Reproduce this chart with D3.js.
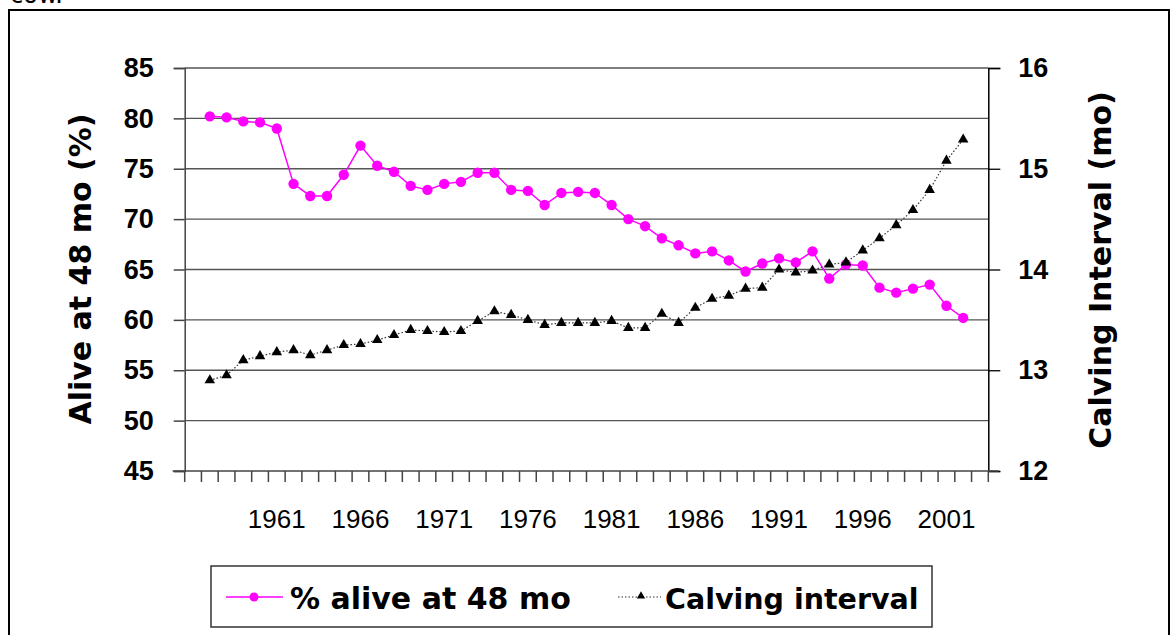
<!DOCTYPE html>
<html>
<head>
<meta charset="utf-8">
<script src="https://cdn.jsdelivr.net/npm/d3@7"></script>
<style>
  body { margin: 0; background: #fff; }
  svg { display: block; }
</style>
</head>
<body>
<div id="chart"></div>
<script>
// years with data
var years = [1957, 1958, 1959, 1960, 1961, 1962, 1963, 1964, 1965, 1966,
             1967, 1968, 1969, 1970, 1971, 1972, 1973, 1974, 1975, 1976,
             1977, 1978, 1979, 1980, 1981, 1982, 1983, 1984, 1985, 1986,
             1987, 1988, 1989, 1990, 1991, 1992, 1993, 1994, 1995, 1996,
             1997, 1998, 1999, 2000, 2001, 2002];
// % alive at 48 mo (left axis)
var alive = [80.2, 80.1, 79.7, 79.6, 79.0, 73.5, 72.3, 72.3, 74.4, 77.3,
             75.3, 74.7, 73.3, 72.9, 73.5, 73.7, 74.6, 74.6, 72.9, 72.8,
             71.4, 72.6, 72.7, 72.6, 71.4, 70.0, 69.3, 68.1, 67.4, 66.6,
             66.8, 65.9, 64.8, 65.6, 66.1, 65.7, 66.8, 64.1, 65.5, 65.4,
             63.2, 62.7, 63.1, 63.5, 61.4, 60.2];
// calving interval in months (right axis)
var calving = [12.90, 12.95, 13.10, 13.14, 13.18, 13.20, 13.15, 13.20, 13.25, 13.26,
               13.30, 13.35, 13.40, 13.39, 13.38, 13.39, 13.49, 13.585, 13.55, 13.50,
               13.45, 13.47, 13.47, 13.47, 13.49, 13.42, 13.42, 13.56, 13.47, 13.62,
               13.71, 13.74, 13.81, 13.82, 14.00, 13.97, 13.99, 14.05, 14.07, 14.19,
               14.31, 14.44, 14.59, 14.79, 15.08, 15.29];

var slots = d3.range(1956, 2004); // category slots on the x axis
var labelYears = [1961, 1966, 1971, 1976, 1981, 1986, 1991, 1996, 2001];
var leftTicks = [45, 50, 55, 60, 65, 70, 75, 80, 85];
var rightTicks = [12, 13, 14, 15, 16];

const width = 1176;
const height = 635;
const plotL = 184.7, plotR = 988.3, plotT = 68, plotB = 471;

const svg = d3.select("#chart").append("svg")
    .attr("width", width)
    .attr("height", height);

// outer frame + cut text from the page above
svg.append("rect")
    .attr("x", 9).attr("y", 10)
    .attr("width", 1160).attr("height", 640)
    .attr("fill", "none").attr("stroke", "#000").attr("stroke-width", 2);
svg.append("text")
    .attr("x", 10).attr("y", 3)
    .attr("font-family", "DejaVu Sans").attr("font-size", 24)
    .text("cow.");

var x = d3.scaleBand().domain(slots).range([plotL, plotR]).paddingInner(0);
var yL = d3.scaleLinear().domain([45, 85]).range([plotB, plotT]);
var yR = d3.scaleLinear().domain([12, 16]).range([plotB, plotT]);
var cx = (d) => x(d) + x.bandwidth() / 2;

// gridlines
svg.append("g").selectAll("line")
    .data(leftTicks.slice(1))
    .enter().append("line")
    .attr("x1", plotL).attr("x2", plotR)
    .attr("y1", (d) => yL(d)).attr("y2", (d) => yL(d))
    .attr("stroke", "#555").attr("stroke-width", 1.4);

// left axis
const gL = svg.append("g")
    .attr("transform", `translate(${plotL},0)`)
    .call(d3.axisLeft(yL).tickValues(leftTicks).tickSize(11).tickPadding(20));
gL.select(".domain").attr("stroke", "#444").attr("stroke-width", 1.5);
gL.selectAll(".tick line").attr("stroke", "#444").attr("stroke-width", 1.5);
gL.selectAll("text")
    .attr("font-family", "Liberation Sans, Arial, sans-serif")
    .attr("font-weight", "bold").attr("font-size", 27).attr("fill", "#000");

// right axis
const gR = svg.append("g")
    .attr("transform", `translate(${plotR},0)`)
    .call(d3.axisRight(yR).tickValues(rightTicks).tickFormat(d3.format("d"))
        .tickSize(12).tickPadding(18));
gR.select(".domain").attr("stroke", "#000").attr("stroke-width", 1.5);
gR.selectAll(".tick line").attr("stroke", "#000").attr("stroke-width", 1.3);
gR.selectAll("text")
    .attr("font-family", "Liberation Sans, Arial, sans-serif")
    .attr("font-weight", "bold").attr("font-size", 27).attr("fill", "#000");

// x axis: ticks between categories, labels every 5 years
svg.append("line")
    .attr("x1", plotL - 12).attr("x2", plotR + 10)
    .attr("y1", plotB).attr("y2", plotB)
    .attr("stroke", "#444").attr("stroke-width", 1.5);
svg.append("g").selectAll("line")
    .data(slots.concat([null]))
    .enter().append("line")
    .attr("x1", (d) => d === null ? plotR : x(d))
    .attr("x2", (d) => d === null ? plotR : x(d))
    .attr("y1", plotB).attr("y2", plotB + 11)
    .attr("stroke", "#444").attr("stroke-width", 1.5);
const gX = svg.append("g")
    .attr("transform", `translate(0,${plotB})`)
    .call(d3.axisBottom(x).tickValues(labelYears).tickSize(0).tickPadding(39));
gX.select(".domain").remove();
gX.selectAll("text")
    .attr("font-family", "Liberation Sans, Arial, sans-serif")
    .attr("font-size", 26).attr("fill", "#000");

// axis titles
svg.append("text")
    .attr("transform", "translate(91,269) rotate(-90)")
    .attr("text-anchor", "middle")
    .attr("font-family", "DejaVu Sans").attr("font-weight", "bold").attr("font-size", 30)
    .text("Alive at 48 mo (%)");
svg.append("text")
    .attr("transform", "translate(1111,270) rotate(-90)")
    .attr("text-anchor", "middle")
    .attr("font-family", "DejaVu Sans").attr("font-weight", "bold").attr("font-size", 30)
    .text("Calving Interval (mo)");

// % alive series
var lineL = d3.line().x((d, i) => cx(years[i])).y((d) => yL(d));
svg.append("path")
    .attr("d", lineL(alive))
    .attr("fill", "none").attr("stroke", "#ff00ff").attr("stroke-width", 1.5);
svg.append("g").selectAll("circle")
    .data(alive)
    .enter().append("circle")
    .attr("cx", (d, i) => cx(years[i]))
    .attr("cy", (d) => yL(d))
    .attr("r", 5.2)
    .attr("fill", "#ff00ff");

// calving interval series
var lineR = d3.line().x((d, i) => cx(years[i])).y((d) => yR(d));
svg.append("path")
    .attr("d", lineR(calving))
    .attr("fill", "none").attr("stroke", "#333").attr("stroke-width", 1.2)
    .attr("stroke-dasharray", "1.5,2");
var tri = d3.symbol().type(d3.symbolTriangle).size(48);
svg.append("g").selectAll("path")
    .data(calving)
    .enter().append("path")
    .attr("d", tri)
    .attr("transform", (d, i) => `translate(${cx(years[i])},${yR(d)})`)
    .attr("fill", "#000");

// legend
const lg = svg.append("g");
lg.append("rect")
    .attr("x", 211).attr("y", 566).attr("width", 721).attr("height", 61)
    .attr("fill", "#fff").attr("stroke", "#333").attr("stroke-width", 1.5);
lg.append("line")
    .attr("x1", 226).attr("x2", 283).attr("y1", 597).attr("y2", 597)
    .attr("stroke", "#ff00ff").attr("stroke-width", 1.5);
lg.append("circle")
    .attr("cx", 254).attr("cy", 597).attr("r", 4.5).attr("fill", "#ff00ff");
lg.append("text")
    .attr("x", 290).attr("y", 609)
    .attr("font-family", "DejaVu Sans").attr("font-weight", "bold").attr("font-size", 30)
    .text("% alive at 48 mo");
lg.append("line")
    .attr("x1", 618).attr("x2", 661).attr("y1", 597).attr("y2", 597)
    .attr("stroke", "#333").attr("stroke-width", 1.2).attr("stroke-dasharray", "1.5,2");
lg.append("path")
    .attr("d", d3.symbol().type(d3.symbolTriangle).size(30))
    .attr("transform", "translate(641,596)")
    .attr("fill", "#000");
lg.append("text")
    .attr("x", 665).attr("y", 609)
    .attr("font-family", "DejaVu Sans").attr("font-weight", "bold").attr("font-size", 28.5)
    .text("Calving interval");
</script>
</body>
</html>
